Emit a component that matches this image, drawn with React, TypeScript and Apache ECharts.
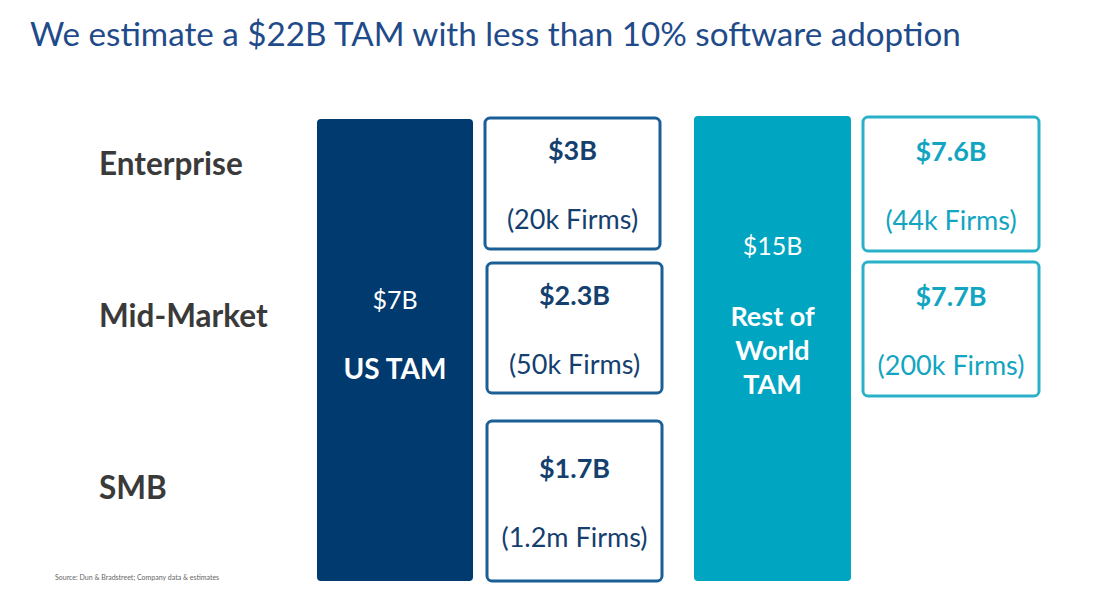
import React, { useEffect, useRef } from "react";
import * as echarts from "echarts";

const title = "We estimate a $22B TAM with less than 10% software adoption";
const source = "Source: Dun & Bradstreet; Company data & estimates";
const segments = ["Enterprise", "Mid-Market", "SMB"];
const usTotal = "$7B";
const usLabel = ["US TAM"];
const usValues = ["$3B", "$2.3B", "$1.7B"];
const usFirms = ["(20k Firms)", "(50k Firms)", "(1.2m Firms)"];
const rowTotal = "$15B";
const rowLabel = ["Rest of", "World", "TAM"];
const rowValues = ["$7.6B", "$7.7B"];
const rowFirms = ["(44k Firms)", "(200k Firms)"];

const FONT = "Lato, 'Open Sans', sans-serif";
const NAVY = "#003a6f";
const NAVY_BORDER = "#1b5f97";
const NAVY_TEXT = "#143f6f";
const TEAL = "#00a5c1";
const TEAL_BORDER = "#2ab1c9";
const TEAL_TEXT = "#12a5c1";

// layout (pixels)
const segLabelX = 99;
const segLabelY = [163, 315, 487];
const usCol = { x: 317, y: 119, w: 156, h: 462 };
const usBoxes = [
  { x: 485, y: 118, w: 175, h: 131 },
  { x: 487, y: 263, w: 175, h: 130 },
  { x: 487, y: 421, w: 175, h: 160 },
];
const rowCol = { x: 694, y: 116, w: 157, h: 465 };
const rowBoxes = [
  { x: 863, y: 117, w: 176, h: 134 },
  { x: 863, y: 262, w: 176, h: 134 },
];

function text(t: string, x: number, y: number, fill: string, size: number, weight: string, align = "center") {
  return {
    type: "text",
    x,
    y,
    style: {
      text: t,
      fill,
      font: `${weight} ${size}px ${FONT}`,
      align,
      verticalAlign: "middle",
    },
  };
}

function box(b: any, stroke: string) {
  return {
    type: "rect",
    shape: { x: b.x, y: b.y, width: b.w, height: b.h, r: 5 },
    style: { fill: "#ffffff", stroke, lineWidth: 3 },
  };
}

export default function App() {
  const ref = useRef<HTMLDivElement>(null);
  useEffect(() => {
    document.body.style.margin = "0";
    const chart = echarts.init(ref.current!, undefined, { renderer: "svg" });
    const els: any[] = [];
    els.push(text(title, 30, 33, "#1f4b8a", 33.2, "normal", "left"));
    segments.forEach((s, i) => els.push(text(s, segLabelX, segLabelY[i], "#3a3a3a", 31.5, "bold", "left")));

    els.push({
      type: "rect",
      shape: { x: usCol.x, y: usCol.y, width: usCol.w, height: usCol.h, r: 4 },
      style: { fill: NAVY },
    });
    const ucx = usCol.x + usCol.w / 2;
    els.push(text(usTotal, ucx, 299, "#ffffff", 25, "normal"));
    usLabel.forEach((l, i) => els.push(text(l, ucx, 368 + i * 34, "#ffffff", 28, "bold")));

    usBoxes.forEach((b, i) => {
      els.push(box(b, NAVY_BORDER));
      const cx = b.x + b.w / 2;
      const cy = b.y + b.h / 2;
      els.push(text(usValues[i], cx, cy - 34, NAVY_TEXT, 27, "bold"));
      els.push(text(usFirms[i], cx, cy + 35, NAVY_TEXT, 27, "normal"));
    });

    els.push({
      type: "rect",
      shape: { x: rowCol.x, y: rowCol.y, width: rowCol.w, height: rowCol.h, r: 4 },
      style: { fill: TEAL },
    });
    const rcx = rowCol.x + rowCol.w / 2;
    els.push(text(rowTotal, rcx, 245, "#ffffff", 25, "normal"));
    rowLabel.forEach((l, i) => els.push(text(l, rcx, 315 + i * 34, "#ffffff", 27, "bold")));

    rowBoxes.forEach((b, i) => {
      els.push(box(b, TEAL_BORDER));
      const cx = b.x + b.w / 2;
      const cy = b.y + b.h / 2;
      els.push(text(rowValues[i], cx, cy - 34, TEAL_TEXT, 27, "bold"));
      els.push(text(rowFirms[i], cx, cy + 35, TEAL_TEXT, 27, "normal"));
    });

    els.push(text(source, 55, 577, "#666666", 7, "normal", "left"));

    chart.setOption({ animation: false, backgroundColor: "#ffffff", graphic: { elements: els } });
    return () => chart.dispose();
  }, []);
  return <div ref={ref} style={{ width: 1111, height: 593 }} />;
}
